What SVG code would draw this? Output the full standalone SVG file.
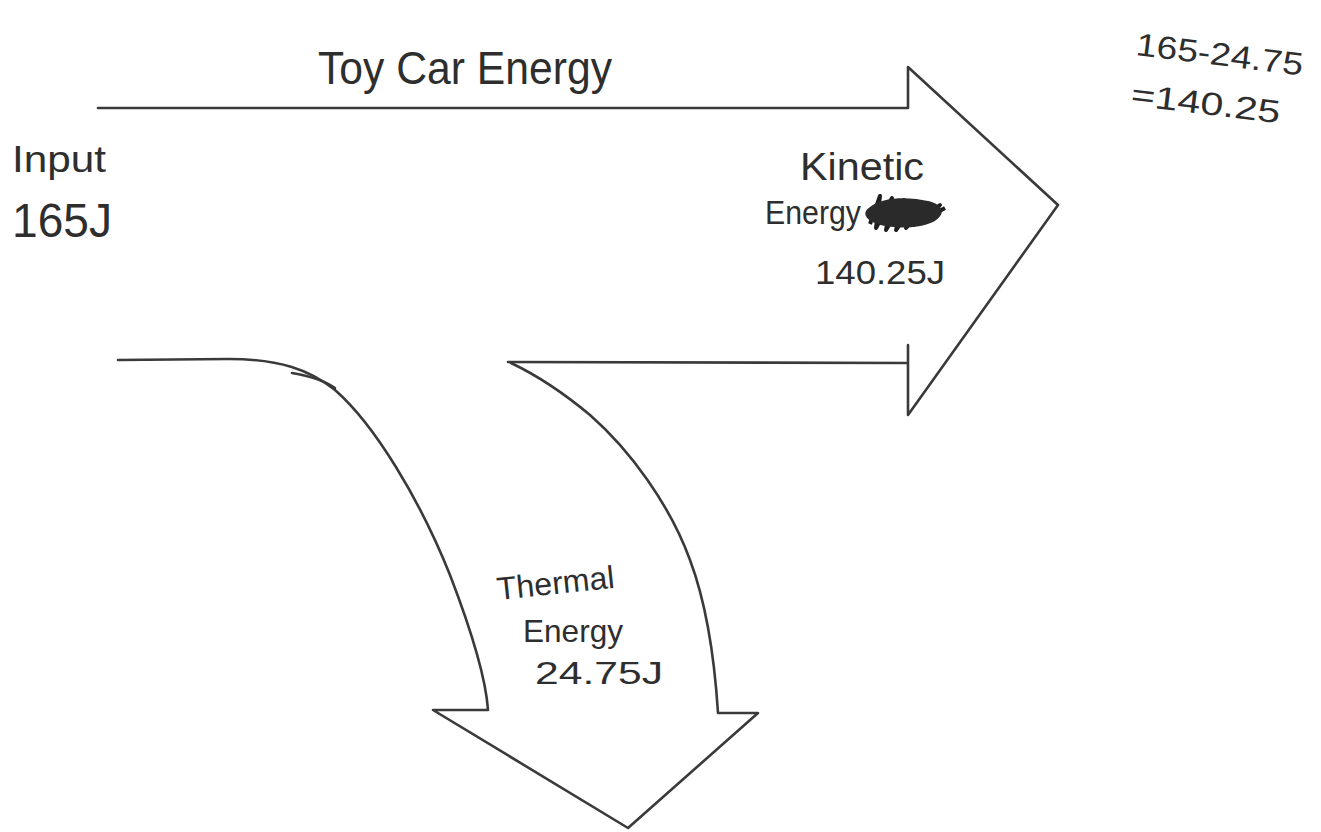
<svg xmlns="http://www.w3.org/2000/svg" width="1321" height="832" viewBox="0 0 1321 832">
<style>
.ln{fill:none;stroke:#3a3a3a;stroke-width:2.6;stroke-linejoin:round;stroke-linecap:round}
.t{font-family:"Liberation Sans",Arial,sans-serif;fill:#2e2e2e;font-weight:normal}
</style>
<rect width="1321" height="832" fill="#ffffff"/>
<g id="connectors">
<path class="ln" d="M98,108 L908,108 L908,67 L1058,205 L908,415 L908,345 M908,363 L508,362"/>
<path class="ln" d="M118,360 L229,359 C280,359 310,370 335,390 C375,425 420,500 450,575 C475,640 486,680 488,710 L433,710 L628,828 L758,713 L718,713 C714,650 705,600 690,560 C670,505 630,450 590,415 C560,390 530,372 511,363"/>
<path class="ln" d="M292,373 C310,376 325,381 335,388"/>
</g>
<g id="title"><text class="t" x="318" y="84" font-size="46" textLength="294" lengthAdjust="spacingAndGlyphs">Toy Car Energy</text></g>
<g id="input">
<text class="t" x="12" y="172" font-size="36" textLength="94" lengthAdjust="spacingAndGlyphs">Input</text>
<text class="t" x="12" y="237" font-size="48" textLength="100" lengthAdjust="spacingAndGlyphs">165J</text>
</g>
<g id="kinetic">
<text class="t" x="800" y="180" font-size="38" textLength="124" lengthAdjust="spacingAndGlyphs">Kinetic</text>
<text class="t" x="765" y="224" font-size="34" textLength="96" lengthAdjust="spacingAndGlyphs">Energy</text>
<path d="M870,224 L880,196 L876,228 L892,198 L886,230 L904,200 L896,230 L916,201 L906,228 L928,203 L914,225 L940,205 L920,222 L945,208 M868,212 L940,210 M872,218 L935,216" fill="none" stroke="#1e1e1e" stroke-width="4" stroke-linejoin="round"/>
<path d="M870,207 C884,196 910,197 928,201 C945,205 946,215 933,222 C918,229 892,229 877,224 C864,219 862,212 870,207 Z" fill="#2a2a2a"/>
<text class="t" x="815" y="284" font-size="34" textLength="130" lengthAdjust="spacingAndGlyphs">140.25J</text>
</g>
<g id="thermal">
<text class="t" x="498" y="600" font-size="32" textLength="118" lengthAdjust="spacingAndGlyphs" transform="rotate(-6 498 600)">Thermal</text>
<text class="t" x="523" y="642" font-size="32" textLength="100" lengthAdjust="spacingAndGlyphs">Energy</text>
<text class="t" x="535" y="684" font-size="32" textLength="128" lengthAdjust="spacingAndGlyphs">24.75J</text>
</g>
<g id="calc">
<text class="t" x="1135" y="55" font-size="32" textLength="168" lengthAdjust="spacingAndGlyphs" transform="rotate(7 1135 55)">165-24.75</text>
<text class="t" x="1130" y="105" font-size="32" textLength="150" lengthAdjust="spacingAndGlyphs" transform="rotate(7 1130 105)">=140.25</text>
</g>
</svg>
